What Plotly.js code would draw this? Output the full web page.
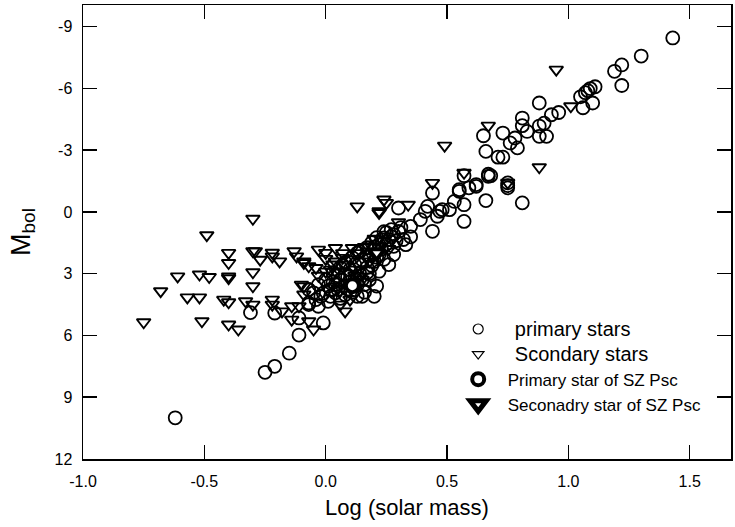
<!DOCTYPE html>
<html><head><meta charset="utf-8">
<script src="https://cdn.plot.ly/plotly-3.0.1.min.js"></script>
<style>html,body{margin:0;padding:0;background:#fff}</style>
</head><body><div id="chart" style="width:735px;height:527px"></div>
<script>
// Primary stars: log(M/Msun), Mbol
const primaryX = [1.43,1.30,1.22,1.19,1.22,1.11,1.09,1.08,1.07,1.05,1.10,1.06,0.96,0.93,0.88,0.90,0.88,0.91,0.88,0.81,0.81,0.83,0.78,0.79,0.73,0.65,0.66,0.71,0.73,0.76,0.67,0.68,0.75,0.75,0.75,0.81,0.66,0.62,0.57,0.55,0.57,0.53,0.44,0.51,0.47,0.44,0.42,0.30,0.39,0.35,0.27,0.24,0.32,0.18,0.13,0.28,0.59,0.55,0.62,0.57,0.46,0.41,0.48,0.67,
0.31,0.28,0.26,0.22,0.20,0.17,0.15,0.12,0.10,0.08,0.06,0.04,0.02,0.24,0.21,0.19,0.17,0.14,0.11,0.08,0.06,0.03,0.22,0.20,0.17,0.14,0.12,0.08,0.05,0.23,0.22,0.20,0.15,0.13,0.01,0.04,-0.05,-0.07,-0.03,-0.07,-0.04,0.26,0.28,0.33,0.35,0.16,0.18,0.12,0.00,-0.03,0.08,
0.30,0.27,0.25,0.23,0.21,0.19,0.17,0.15,0.13,0.11,0.09,0.07,0.05,0.03,0.01,-0.01,0.10,0.14,0.18,0.20,0.25,0.29,0.24,0.18,0.09,0.06,0.02,-0.02,0.16,0.21,
-0.31,-0.21,-0.11,-0.01,-0.11,-0.15,-0.21,-0.25,-0.62,-0.07];
const primaryY = [-8.45,-7.57,-7.14,-6.83,-6.14,-6.08,-5.99,-5.89,-5.79,-5.59,-5.29,-5.06,-4.83,-4.72,-5.29,-4.31,-4.17,-3.67,-3.67,-4.56,-4.19,-3.91,-3.59,-3.11,-3.83,-3.70,-2.94,-2.66,-2.66,-3.35,-1.83,-1.76,-1.41,-1.28,-1.17,-0.44,-0.55,-1.24,-1.76,-1.08,0.46,-0.51,-0.92,-0.11,-0.03,0.94,-0.27,-0.19,0.37,0.70,0.86,1.26,1.34,1.75,1.99,1.67,-1.17,-1.00,-1.33,-0.35,0.21,-0.03,-0.11,-1.73,
0.76,1.10,1.35,1.59,1.83,2.07,2.32,2.56,2.80,3.04,3.29,3.53,3.77,0.96,1.25,1.49,1.73,1.93,2.22,2.46,2.70,2.95,2.07,2.41,2.70,3.00,3.29,3.58,3.77,1.35,2.88,4.10,4.10,4.10,4.34,3.93,3.93,4.42,4.58,3.77,4.26,2.56,2.07,1.59,1.21,3.53,3.29,3.77,3.29,3.53,4.02,
0.95,1.20,1.55,1.80,2.20,2.60,2.95,3.30,3.55,3.90,3.15,2.60,3.10,3.40,3.60,3.95,3.40,2.50,2.10,1.70,1.00,1.40,2.30,3.00,3.75,4.20,4.10,4.10,3.90,3.60,
4.89,4.91,5.15,5.39,5.98,6.86,7.50,7.79,10.0,4.50];

// Secondary stars
const secondaryX = [-0.49,-0.30,0.13,-0.40,-0.40,-0.40,-0.40,-0.68,-0.61,-0.52,-0.48,-0.57,-0.52,-0.75,-0.51,-0.30,-0.30,-0.30,-0.42,-0.40,-0.33,-0.30,-0.40,-0.36,-0.22,-0.22,-0.18,-0.14,-0.14,-0.09,-0.09,-0.07,-0.05,0.08,-0.29,-0.27,-0.22,-0.22,-0.19,-0.13,-0.12,-0.09,-0.07,-0.04,-0.03,0.00,-0.09,0.04,0.00,0.07,0.11,0.04,-0.10,-0.11,0.22,0.25,0.24,0.22,0.34,0.30,0.44,0.49,0.67,0.95,0.88,1.01,0.57,0.75,0.08,0.12,0.04,0.02,0.15,0.10,0.06,
0.13,0.16,0.10,0.07,0.03,0.00,-0.03,0.12,0.18,0.20,0.26,0.05];
const secondaryY = [1.13,0.33,-0.27,1.99,2.48,3.13,3.22,3.85,3.13,3.04,3.16,4.15,4.15,5.36,5.31,2.93,3.61,1.91,4.26,4.39,4.34,4.50,5.47,5.71,4.26,4.50,4.83,4.58,5.23,3.61,4.01,5.31,5.71,4.83,1.91,2.32,2.16,1.98,2.40,1.91,2.16,2.48,2.64,2.72,1.83,1.99,2.40,1.75,2.28,2.23,1.75,2.88,3.53,4.58,0.05,-0.44,-0.60,-0.03,-0.35,0.50,-1.41,-3.22,-4.19,-6.91,-2.17,-5.13,-1.90,-1.42,2.56,2.80,2.41,2.80,3.29,4.26,4.50,
2.00,1.70,2.30,2.00,2.55,2.90,3.10,3.10,2.40,1.30,1.80,3.70];

// SZ Psc components
const szPrimaryX = [0.11];
const szPrimaryY = [3.58];
const szSecondaryX = [0.21];
const szSecondaryY = [1.98];

const xTickVals = [-1.0,-0.5,0.0,0.5,1.0,1.5];
const xTickText = ["-1.0","-0.5","0.0","0.5","1.0","1.5"];
const yTickVals = [-9,-6,-3,0,3,6,9,12];
const yTickText = ["-9","-6","-3","0","3","6","9","12"];

const FONT = "Liberation Sans, Arial, Helvetica, sans-serif";

const traces = [
  {x:secondaryX, y:secondaryY, type:"scatter", mode:"markers", showlegend:false,
   marker:{symbol:"triangle-down-open", size:12, color:"black", line:{color:"black", width:1.9}}},
  {x:primaryX, y:primaryY, type:"scatter", mode:"markers", showlegend:false,
   marker:{symbol:"circle-open", size:13, color:"black", line:{color:"black", width:1.8}}},
  {x:szSecondaryX, y:szSecondaryY, type:"scatter", mode:"markers", showlegend:false,
   marker:{symbol:"triangle-down", size:14, color:"white", line:{color:"black", width:4}}},
  {x:szPrimaryX, y:szPrimaryY, type:"scatter", mode:"markers", showlegend:false,
   marker:{symbol:"circle", size:13, color:"white", line:{color:"black", width:4}}},
  // legend entries
  {x:[null], y:[null], type:"scatter", mode:"markers", name:"<span style='font-size:20px'>\u00a0\u00a0\u00a0primary stars</span>",
   marker:{symbol:"circle-open", size:10, color:"black", line:{color:"black", width:1.2}}},
  {x:[null], y:[null], type:"scatter", mode:"markers", name:"<span style='font-size:20px'>\u00a0\u00a0\u00a0Scondary stars</span>",
   marker:{symbol:"triangle-down-open", size:10, color:"black", line:{color:"black", width:1.2}}},
  {x:[null], y:[null], type:"scatter", mode:"markers", name:"\u00a0\u00a0Primary star of SZ Psc",
   marker:{symbol:"circle", size:12, color:"white", line:{color:"black", width:4}}},
  {x:[null], y:[null], type:"scatter", mode:"markers", name:"\u00a0\u00a0Seconadry star of SZ Psc",
   marker:{symbol:"triangle-down", size:14, color:"white", line:{color:"black", width:5}}}
];

const axisCommon = {
  showline:true, mirror:"ticks", linecolor:"black", linewidth:1.5,
  ticks:"inside", ticklen:14, tickwidth:1.5, tickcolor:"black",
  showgrid:false, zeroline:false, tickmode:"array",
  tickfont:{family:FONT, size:16, color:"black"}
};

const layout = {
  width:735, height:527,
  margin:{l:83, r:4, t:5, b:68},
  paper_bgcolor:"white", plot_bgcolor:"white",
  font:{family:FONT, color:"black"},
  xaxis:Object.assign({}, axisCommon, {
    range:[-1.0,1.67], tickvals:xTickVals, ticktext:xTickText, ticklabelstandoff:7,
    title:{text:"Log (solar mass)", font:{family:FONT, size:22, color:"black"}, standoff:11}
  }),
  yaxis:Object.assign({}, axisCommon, {
    range:[12,-10.05], tickvals:yTickVals, ticktext:yTickText, ticklabelstandoff:6,
    title:{text:"M<sub><span style='font-size:19px'>bol</span></sub>", font:{family:FONT, size:27, color:"black"}, standoff:16}
  }),
  showlegend:true,
  legend:{x:0.579, y:0.325, xanchor:"left", yanchor:"top", bgcolor:"rgba(0,0,0,0)",
    font:{family:FONT, size:17, color:"black"}, itemsizing:"trace", tracegroupgap:0}
};

Plotly.newPlot("chart", traces, layout, {displayModeBar:false, staticPlot:true});
</script>
</body></html>
